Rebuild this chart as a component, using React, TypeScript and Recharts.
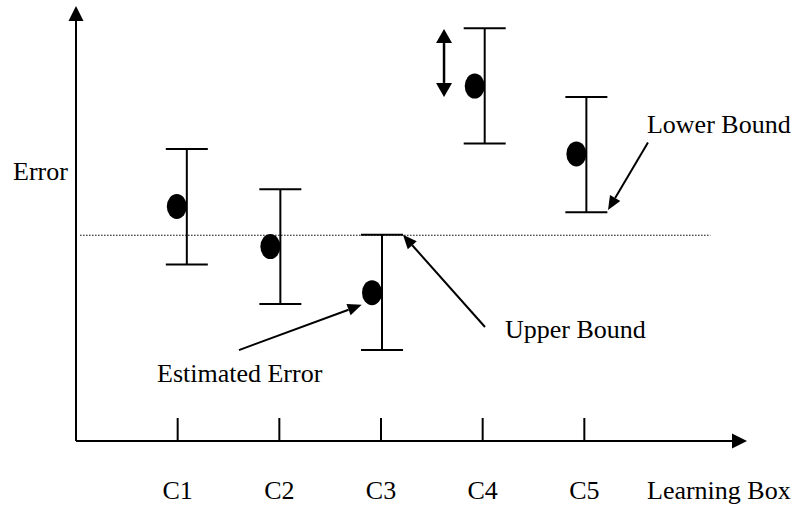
import React from 'react';
import { ComposedChart, Scatter, ErrorBar, XAxis, YAxis, ReferenceLine, ReferenceDot } from 'recharts';

// ---- data ----
const categories = ['C1', 'C2', 'C3', 'C4', 'C5'];
const positions = [1.09, 2.01, 3.01, 4.02, 5.02];
const estimated = [53.9, 44.7, 34.1, 81.6, 66.0];
const upperVals = [67.1, 57.9, 47.4, 94.9, 79.1];
const lowerVals = [40.6, 31.5, 20.9, 68.4, 52.6];
const xTicks = [1, 2, 3, 4, 5];
const threshold = 47.3;
const thresholdSpan = [0.04, 6.24];
const xLabel = 'Learning Box';
const yLabel = 'Error';
const xDomain = [0, 6.6];
const yDomain = [0, 100];

const annotationTexts = ['Lower Bound', 'Upper Bound', 'Estimated Error'];
const annotationTextX = [5.616, 4.22, 0.797];
const annotationTextY = [70.8, 23.7, 13.6];
const arrowFromX = [5.626, 4.023, 1.603];
const arrowFromY = [68.6, 26.2, 20.9];
const arrowToX = [5.233, 3.216, 2.81];
const arrowToY = [53.1, 47.4, 31.3];
const rangeArrowX = 3.62;
const rangeArrowY = [79.1, 94.7];

const data = categories.map((c, i) => ({
  name: c,
  x: positions[i],
  y: estimated[i],
  err: [estimated[i] - lowerVals[i], upperVals[i] - estimated[i]],
}));

const FONT = '"Liberation Serif", "Times New Roman", serif';

function head(x1: number, y1: number, x2: number, y2: number, L: number, W: number) {
  const dx = x2 - x1;
  const dy = y2 - y1;
  const len = Math.sqrt(dx * dx + dy * dy) || 1;
  const ux = dx / len;
  const uy = dy / len;
  const bx = x2 - ux * L;
  const by = y2 - uy * L;
  const px = -uy * W;
  const py = ux * W;
  return { pts: `${x2},${y2} ${bx + px},${by + py} ${bx - px},${by - py}`, bx, by };
}

const makeArrow = (both: boolean, L: number, W: number, sw: number) => (props: any) => {
  const { x1, y1, x2, y2 } = props;
  if ([x1, y1, x2, y2].some((v) => typeof v !== 'number' || isNaN(v))) return <g />;
  const h2 = head(x1, y1, x2, y2, L, W);
  const h1 = both ? head(x2, y2, x1, y1, L, W) : null;
  const sx = h1 ? h1.bx : x1;
  const sy = h1 ? h1.by : y1;
  return (
    <g>
      <line x1={sx} y1={sy} x2={h2.bx} y2={h2.by} stroke="#000" strokeWidth={sw} />
      <polygon points={h2.pts} fill="#000" />
      {h1 && <polygon points={h1.pts} fill="#000" />}
    </g>
  );
};

const axisArrow = makeArrow(false, 15, 7.5, 2);
const noteArrow = makeArrow(false, 14, 6, 2);
const rangeArrow = makeArrow(true, 14, 8, 2.5);

const Tick = (props: any) => {
  const { x, y, payload } = props;
  const idx = xTicks.indexOf(payload.value);
  return (
    <g>
      <line x1={x} y1={y - 23} x2={x} y2={y} stroke="#000" strokeWidth={2} />
      <text x={x} y={y + 58} textAnchor="middle" fontFamily={FONT} fontSize={26} fill="#000">
        {categories[idx]}
      </text>
    </g>
  );
};

const XLabel = (props: any) => {
  const vb = props.viewBox || { x: 76, y: 441 };
  return (
    <text x={vb.x + 571} y={vb.y + 58} fontFamily={FONT} fontSize={26} fill="#000">
      {xLabel}
    </text>
  );
};

const YLabel = (props: any) => {
  const vb = props.viewBox || { x: 0, y: 6 };
  return (
    <text x={vb.x + 13} y={vb.y + 174} fontFamily={FONT} fontSize={26} fill="#000">
      {yLabel}
    </text>
  );
};

const Dot = (props: any) => {
  const { cx, cy } = props;
  return <ellipse cx={cx - 10} cy={cy} rx={10} ry={12.5} fill="#000" />;
};

const TextDot = (text: string) => (props: any) => {
  const { cx, cy } = props;
  return (
    <text x={cx} y={cy} fontFamily={FONT} fontSize={26} fill="#000">
      {text}
    </text>
  );
};

export default function App() {
  return (
    <div style={{ position: 'absolute', left: 0, top: 0, width: 795, height: 506, background: '#fff' }}>
      <ComposedChart width={795} height={506} margin={{ top: 6, right: 48, left: 0, bottom: 0 }}>
        <XAxis
          type="number"
          dataKey="x"
          domain={xDomain}
          ticks={xTicks}
          interval={0}
          allowDataOverflow
          axisLine={false}
          tickLine={false}
          tickSize={0}
          tickMargin={0}
          height={65}
          tick={<Tick />}
          label={<XLabel />}
        />
        <YAxis
          type="number"
          domain={yDomain}
          allowDataOverflow
          width={76}
          tick={false}
          axisLine={false}
          tickLine={false}
          label={<YLabel />}
        />
        <ReferenceLine
          segment={[{ x: thresholdSpan[0], y: threshold }, { x: thresholdSpan[1], y: threshold }]}
          stroke="#000"
          strokeWidth={1}
          strokeDasharray="1.5 1.5"
          ifOverflow="visible"
        />
        <ReferenceLine
          segment={[{ x: xDomain[0], y: yDomain[0] }, { x: xDomain[1], y: yDomain[0] }]}
          shape={axisArrow}
          ifOverflow="visible"
        />
        <ReferenceLine
          segment={[{ x: xDomain[0], y: yDomain[0] }, { x: xDomain[0], y: yDomain[1] }]}
          shape={axisArrow}
          ifOverflow="visible"
        />
        {annotationTexts.map((t, i) => (
          <ReferenceLine
            key={'a' + i}
            segment={[{ x: arrowFromX[i], y: arrowFromY[i] }, { x: arrowToX[i], y: arrowToY[i] }]}
            shape={noteArrow}
            ifOverflow="visible"
          />
        ))}
        {annotationTexts.map((t, i) => (
          <ReferenceDot
            key={'t' + i}
            x={annotationTextX[i]}
            y={annotationTextY[i]}
            r={0}
            shape={TextDot(t)}
            ifOverflow="visible"
          />
        ))}
        <ReferenceLine
          segment={[{ x: rangeArrowX, y: rangeArrowY[0] }, { x: rangeArrowX, y: rangeArrowY[1] }]}
          shape={rangeArrow}
          ifOverflow="visible"
        />
        <Scatter data={data} dataKey="y" shape={<Dot />} isAnimationActive={false}>
          <ErrorBar dataKey="err" direction="y" width={21} stroke="#000" strokeWidth={2} isAnimationActive={false} />
        </Scatter>
      </ComposedChart>
    </div>
  );
}
